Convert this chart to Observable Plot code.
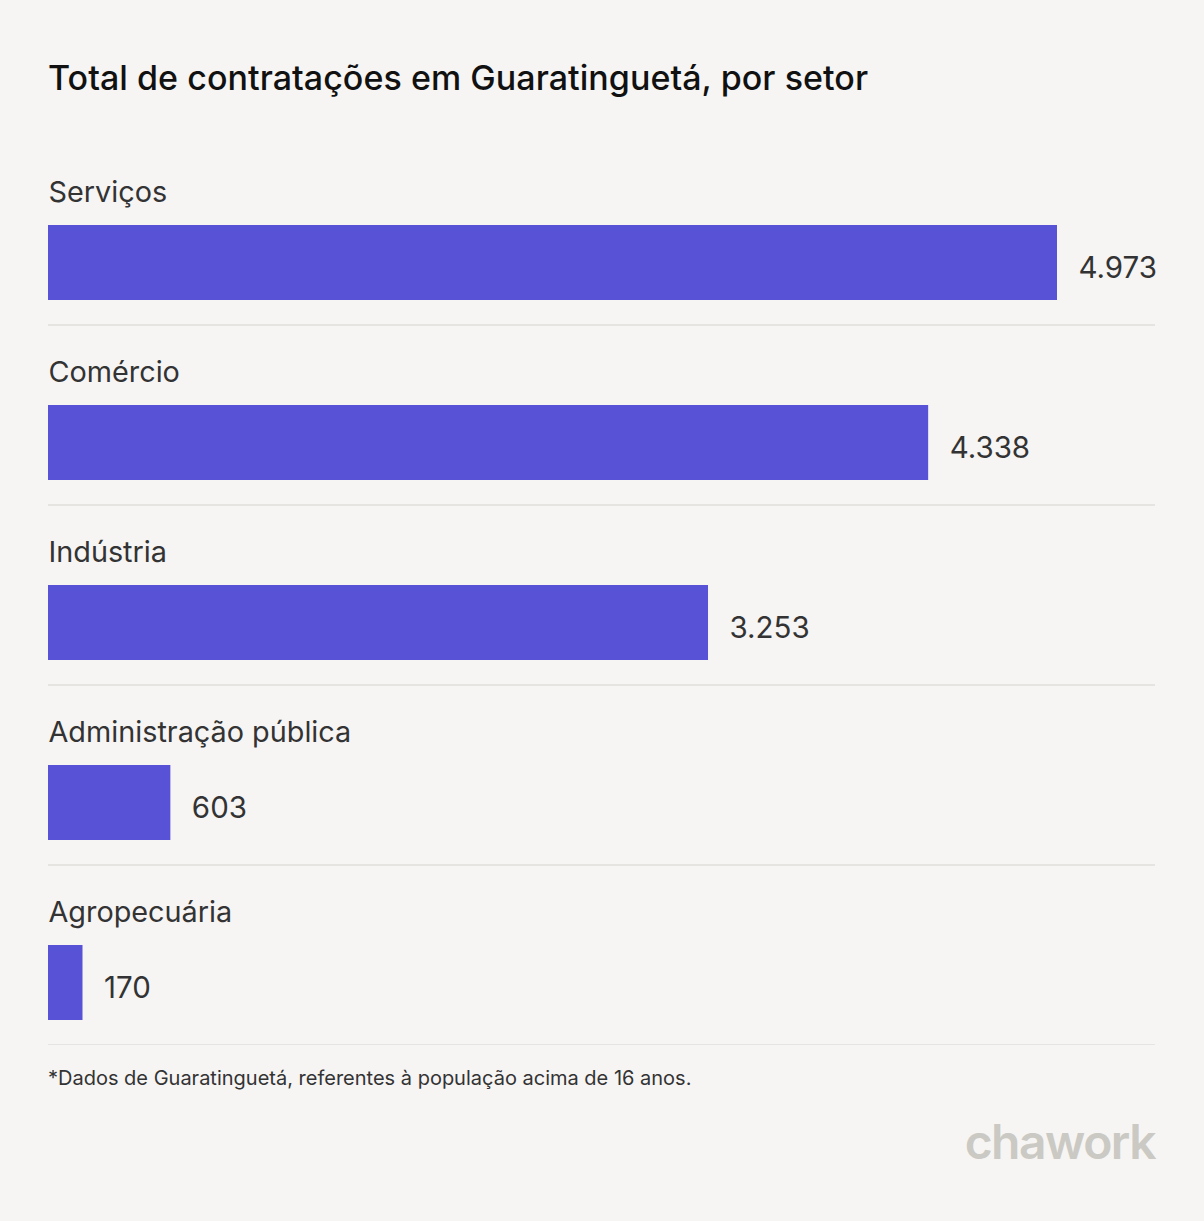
<!DOCTYPE html>
<html>
<head>
<meta charset="utf-8">
<script src="https://cdn.jsdelivr.net/npm/d3@7"></script>
<script src="https://cdn.jsdelivr.net/npm/@observablehq/plot@0.6"></script>
<style>
  html, body { margin: 0; padding: 0; background: #f6f5f3; }
  body { width: 1204px; height: 1221px; position: relative; overflow: hidden; font-family: Inter, "Noto Sans", sans-serif; }
  #title { position: absolute; left: 48px; top: 58px; font-size: 34px; line-height: 40px; color: #111; font-weight: 500; letter-spacing: 0.05px; }
  #chart { position: absolute; left: 0; top: 145px; }
  #note { position: absolute; left: 48px; top: 1066px; font-size: 20px; line-height: 24px; color: #333; }
  #logo { position: absolute; right: 49px; top: 1114px; font-size: 48px; line-height: 56px; color: #cbc9c3; font-weight: 600; letter-spacing: -1.5px; }
</style>
</head>
<body>
<div id="title">Total de contratações em Guaratinguetá, por setor</div>
<div id="chart"></div>
<div id="note">*Dados de Guaratinguetá, referentes à população acima de 16 anos.</div>
<div id="logo">chawork</div>
<script>
const categories = ["Serviços", "Comércio", "Indústria", "Administração pública", "Agropecuária"];
const values = [4973, 4338, 3253, 603, 170];

const fmt = d3.formatLocale({decimal: ",", thousands: ".", grouping: [3], currency: ["R$", ""]}).format(",d");
const data = categories.map((c, i) => ({category: c, value: values[i], label: fmt(values[i])}));

const chart = Plot.plot({
  width: 1204,
  height: 900,
  marginLeft: 48,
  marginRight: 49,
  marginTop: 0,
  marginBottom: 0,
  style: {background: "transparent", fontFamily: "Inter, 'Noto Sans', sans-serif"},
  x: {domain: [0, 5456], axis: null},
  y: {domain: categories, range: [0, 900], padding: 0, axis: null},
  marks: [
    Plot.barX(data, {x: "value", y: "category", fill: "#5852d6", insetTop: 80, insetBottom: 25}),
    Plot.text(data, {x: 0, y: "category", text: "category", textAnchor: "start", dy: -43, fontSize: 28.8, fill: "#333"}),
    Plot.text(data, {x: "value", y: "category", text: "label", textAnchor: "start", dx: 21, dy: 33, fontSize: 29.5, fill: "#333"}),
    Plot.ruleY(data, {y: "category", dy: 89.5, stroke: "#e0deda", strokeWidth: 1.5})
  ]
});
document.getElementById("chart").appendChild(chart);
</script>
</body>
</html>
